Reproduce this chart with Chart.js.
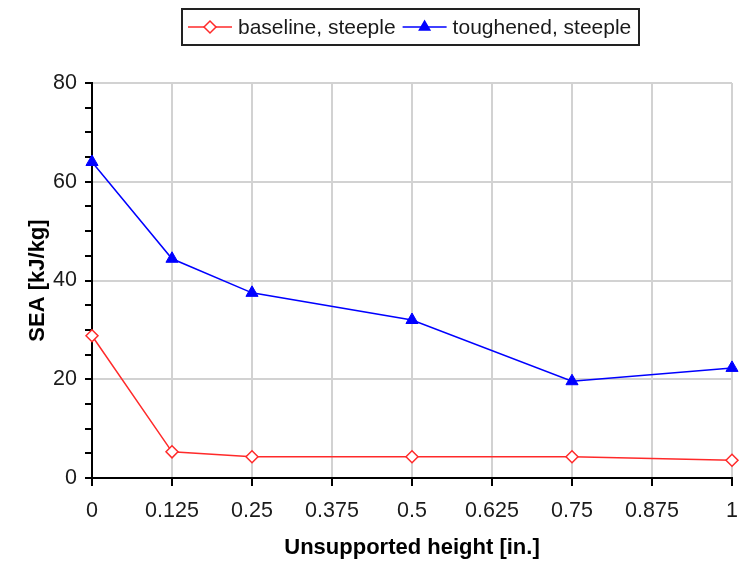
<!DOCTYPE html>
<html>
<head>
<meta charset="utf-8">
<script src="https://cdn.jsdelivr.net/npm/chart.js@4/dist/chart.umd.min.js"></script>
<style>
  html, body { margin: 0; padding: 0; background: #fff; }
  canvas { display: block; }
</style>
</head>
<body>
<canvas id="seaChart" width="744" height="561"></canvas>
<script>
// values
const heights = [0, 0.125, 0.25, 0.5, 0.75, 1];
const baselineSteeple = [28.8, 5.3, 4.3, 4.3, 4.3, 3.6];
const toughenedSteeple = [64.0, 44.4, 37.5, 32.0, 19.6, 22.3];
const xTicks = [0, 0.125, 0.25, 0.375, 0.5, 0.625, 0.75, 0.875, 1];
const seriesNames = ['baseline, steeple', 'toughened, steeple'];

const FONT = "'Liberation Sans', Arial, sans-serif";

function toPoints(ys) {
  return heights.map((h, i) => ({ x: h, y: ys[i] }));
}

// boxed legend with line + marker, like the original
const boxLegend = {
  id: 'boxLegend',
  afterDraw(chart) {
    const ctx = chart.ctx;
    ctx.save();
    ctx.strokeStyle = '#222';
    ctx.lineWidth = 2;
    ctx.strokeRect(182, 9, 457, 36);
    ctx.font = '21px ' + FONT;
    ctx.textBaseline = 'middle';
    let x = 188;
    const y = 27;
    chart.data.datasets.forEach((ds) => {
      ctx.strokeStyle = ds.borderColor;
      ctx.lineWidth = 1.5;
      ctx.beginPath();
      ctx.moveTo(x, y);
      ctx.lineTo(x + 44, y);
      ctx.stroke();
      ctx.fillStyle = ds.pointBackgroundColor;
      ctx.strokeStyle = ds.borderColor;
      Chart.helpers.drawPoint(ctx, { pointStyle: ds.pointStyle, radius: 6, borderWidth: 1.5 }, x + 22, y);
      ctx.fillStyle = '#1a1a1a';
      ctx.fillText(ds.label, x + 50, y + 1);
      x += 50 + ctx.measureText(ds.label).width + 7;
    });
    ctx.restore();
  }
};

const ctx = document.getElementById('seaChart').getContext('2d');
new Chart(ctx, {
  type: 'line',
  data: {
    datasets: [{
      label: seriesNames[0],
      data: toPoints(baselineSteeple),
      borderColor: '#ff2a2a',
      backgroundColor: '#fff',
      pointBackgroundColor: '#fff',
      pointBorderColor: '#ff2a2a',
      pointStyle: 'rectRot',
      pointRadius: 6,
      pointBorderWidth: 1.5,
      borderWidth: 1.5,
      tension: 0,
      clip: false
    }, {
      label: seriesNames[1],
      data: toPoints(toughenedSteeple),
      borderColor: '#0000ff',
      backgroundColor: '#0000ff',
      pointBackgroundColor: '#0000ff',
      pointBorderColor: '#0000ff',
      pointStyle: 'triangle',
      pointRadius: 7,
      pointBorderWidth: 1,
      borderWidth: 1.5,
      tension: 0,
      clip: false
    }]
  },
  options: {
    responsive: false,
    animation: false,
    layout: { padding: { top: 83, right: 12, left: 0, bottom: 0 } },
    plugins: {
      legend: { display: false },
      tooltip: { enabled: false }
    },
    scales: {
      x: {
        type: 'linear',
        min: 0,
        max: 1,
        afterBuildTicks(axis) {
          axis.ticks = xTicks.map(v => ({ value: v }));
        },
        afterFit(axis) {
          axis.height = 83;
          axis.paddingRight = 0;
          axis.paddingLeft = 0;
        },
        ticks: {
          color: '#1a1a1a',
          font: { family: FONT, size: 21.5 },
          padding: 12,
          maxRotation: 0,
          autoSkip: false,
          callback: (v) => String(v)
        },
        grid: {
          color: '#d2d2d2',
          lineWidth: 2,
          tickColor: '#000',
          tickLength: 8
        },
        border: { color: '#000', width: 2 },
        title: {
          display: true,
          text: 'Unsupported height [in.]',
          color: '#000',
          font: { family: FONT, size: 22, weight: 'bold' },
          padding: { top: 8, bottom: 0 }
        }
      },
      y: {
        min: 0,
        max: 80,
        afterFit(axis) { axis.width = 92; },
        ticks: {
          stepSize: 5,
          autoSkip: false,
          color: '#1a1a1a',
          font: { family: FONT, size: 21.5 },
          padding: 8,
          callback: (v) => (v % 20 === 0 ? String(v) : '')
        },
        grid: {
          color: (c) => (c.tick && c.tick.value % 20 === 0 ? '#d2d2d2' : 'rgba(0,0,0,0)'),
          lineWidth: 2,
          tickColor: '#000',
          tickLength: 7
        },
        border: { color: '#000', width: 2 },
        title: {
          display: true,
          text: 'SEA [kJ/kg]',
          color: '#000',
          font: { family: FONT, size: 22, weight: 'bold' },
          padding: { top: 25, bottom: 0 }
        }
      }
    }
  },
  plugins: [boxLegend]
});
</script>
</body>
</html>
